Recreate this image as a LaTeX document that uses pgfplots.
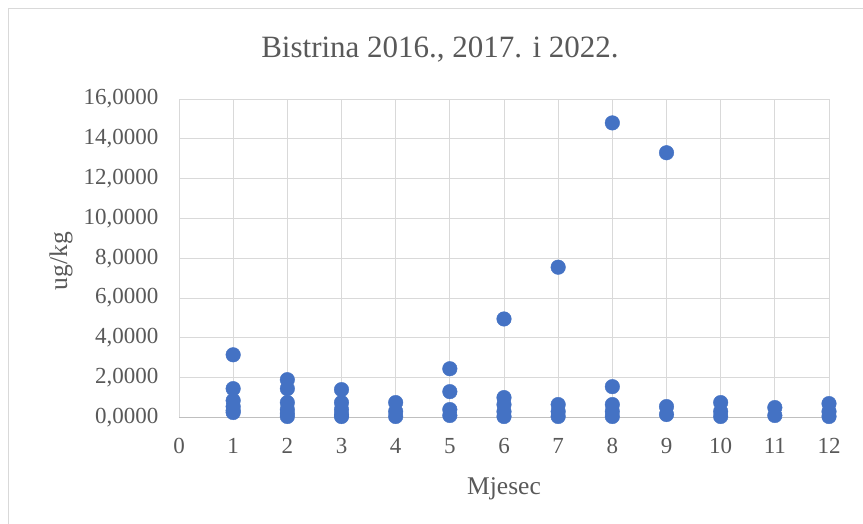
\documentclass[border=0pt]{standalone}
\usepackage{fontspec}
\setmainfont{Liberation Serif}
\usepackage{pgfplots}
\pgfplotsset{compat=1.18}
\definecolor{pt}{HTML}{4472C4}
\definecolor{txt}{HTML}{595959}
\definecolor{grd}{HTML}{D9D9D9}
\definecolor{axl}{HTML}{BFBFBF}
\begin{document}
\begin{tikzpicture}
\useasboundingbox (0pt,0pt) rectangle (863pt,523pt);
\fill[white] (0pt,0pt) rectangle (863pt,523pt);
\draw[grd, line width=1pt] (8.5pt,-5pt) -- (8.5pt,514pt) -- (870pt,514pt);
\begin{axis}[
  at={(179pt,105.5pt)}, anchor=south west,
  scale only axis, width=650pt, height=318.5pt,
  xmin=0, xmax=12, ymin=0, ymax=16,
  xtick={0,1,...,12}, ytick={0,2,...,16},
  grid=major, grid style={grd, line width=1pt},
  axis x line*=bottom, axis y line*=left,
  x axis line style={axl, line width=1.3pt, -},
  y axis line style={draw=none},
  major tick length=0pt,
  /pgf/number format/assume math mode=true,
  yticklabel style={/pgf/number format/fixed, /pgf/number format/fixed zerofill, /pgf/number format/precision=4, /pgf/number format/use comma, /pgf/number format/1000 sep={}},
  ticklabel style={font=\fontsize{23}{27}\selectfont, text=txt},
  xticklabel style={yshift=-17pt},
  yticklabel style={xshift=-17pt},
  clip=false,
]
\addplot[only marks, mark=*, mark size=7.3pt, mark options={fill=pt, draw=pt}] coordinates {
(1,3.15) (1,1.45) (1,0.85) (1,0.55) (1,0.35) (1,0.25)
(2,1.9) (2,1.45) (2,0.75) (2,0.4) (2,0.2) (2,0.05)
(3,1.4) (3,0.75) (3,0.4) (3,0.15) (3,0.05)
(4,0.75) (4,0.3) (4,0.05)
(5,2.45) (5,1.3) (5,0.4) (5,0.1)
(6,4.95) (6,1.0) (6,0.65) (6,0.3) (6,0.05)
(7,7.55) (7,0.65) (7,0.3) (7,0.05)
(8,14.8) (8,1.55) (8,0.65) (8,0.3) (8,0.05)
(9,13.3) (9,0.55) (9,0.15)
(10,0.75) (10,0.3) (10,0.05)
(11,0.5) (11,0.1)
(12,0.7) (12,0.3) (12,0.05)
};
\end{axis}
\node[text=txt, font=\fontsize{31}{36}\selectfont] at (440pt,473pt) {Bistrina 2016., 2017. i 2022.};
\node[text=txt, font=\fontsize{25.5}{30}\selectfont] at (504pt,34pt) {Mjesec};
\node[text=txt, font=\fontsize{25.5}{30}\selectfont, rotate=90] at (61pt,262pt) {ug/kg};
\end{tikzpicture}
\end{document}
